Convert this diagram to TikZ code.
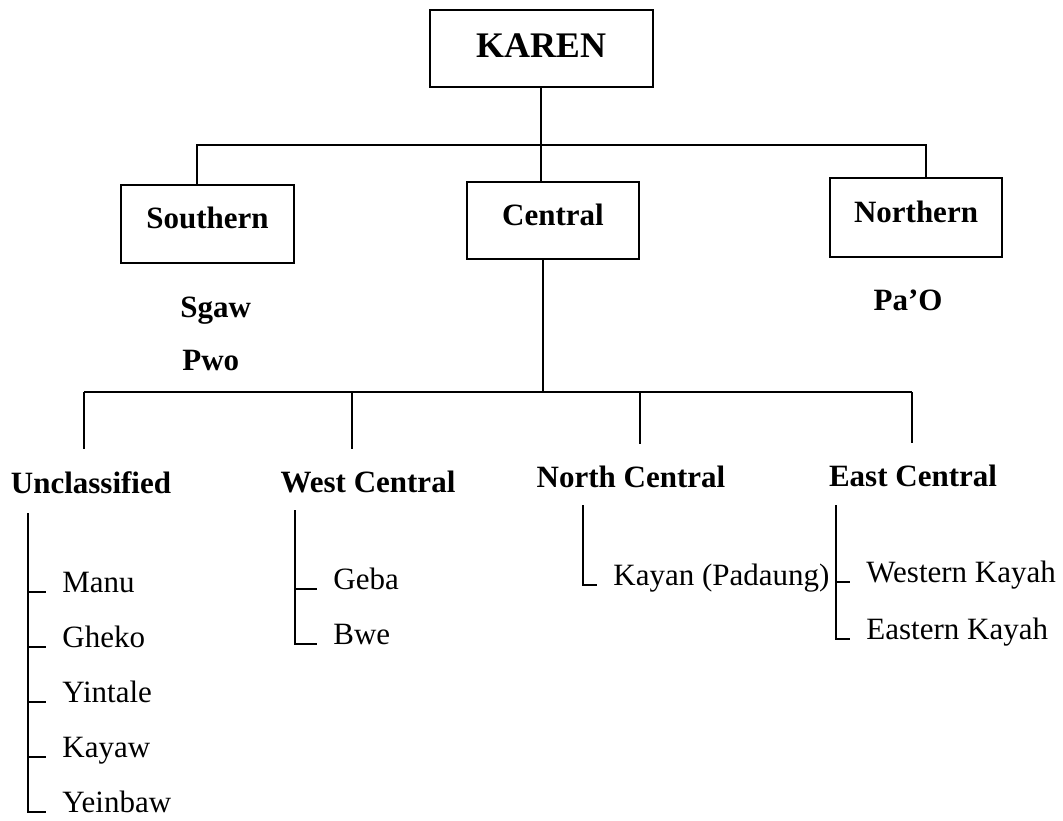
\documentclass[tikz,border=0pt]{standalone}
\usepackage{fontspec}
\setmainfont{Liberation Serif}
\usepackage{tikz}

\begin{document}
\begin{tikzpicture}[x=0.5pt, y=-0.5pt,
  box/.style={draw, line width=1pt, inner sep=0pt, text height=10pt, text depth=5.5pt,
    font=\fontsize{15.5}{18}\selectfont\bfseries},
  group/.style={anchor=base, inner sep=2pt, outer ysep=9pt, font=\fontsize{15.5}{18}\selectfont\bfseries},
  lang/.style={anchor=base west, inner sep=0pt, font=\fontsize{15.5}{18}\selectfont\bfseries},
  leaf/.style={anchor=base west, inner ysep=0pt, inner xsep=8pt, font=\fontsize{15.5}{18}\selectfont},
  link/.style={line width=0.8pt},
  spine/.style={line width=0.7pt}]
  \useasboundingbox (0,0) rectangle (1063,820);

  % top of the tree
  \node[box, minimum width=111.5pt, minimum height=38.5pt, text height=13pt, text depth=4.5pt,
    font=\fontsize{18}{21}\selectfont\bfseries] (karen) at (541,48.5) {KAREN};
  \node[box, minimum width=86.5pt, minimum height=39pt] (south)   at (207.5,224) {Southern};
  \node[box, minimum width=86pt,   minimum height=38.5pt] (central) at (553,220.5) {Central};
  \node[box, minimum width=86pt,   minimum height=39.5pt] (north)  at (916,217.5) {Northern};

  \coordinate (j1) at (541,145);
  \coordinate (sl) at (197,145);
  \coordinate (sr) at (926,145);
  \draw[link] (karen.south) -- (j1);
  \draw[link] (sl |- south.north) -- (sl) -- (sr) -- (sr |- north.north);
  \draw[link] (j1) -- (j1 |- central.north);

  \node[lang] (sgaw) at (180,317) {Sgaw};
  \node[lang] (pwo)  at (182,370) {Pwo};
  \node[lang, anchor=base] (pao) at (908,310) {Pa'O};

  % branches of Central
  \node[group] (unc) at (91,493)  {Unclassified};
  \node[group] (wc)  at (368,492) {West Central};
  \node[group] (nc)  at (631,487) {North Central};
  \node[group] (ec)  at (913,486) {East Central};

  \coordinate (j2) at (543,392);
  \coordinate (s1) at (84,392);
  \coordinate (s2) at (352,392);
  \coordinate (s3) at (640,392);
  \coordinate (s4) at (912,392);
  \draw[link] (j2 |- central.south) -- (j2);
  \draw[link] (s1) -- (s4);
  \foreach \s/\n in {s1/unc, s2/wc, s3/nc, s4/ec}
    \draw[link] (\s) -- (\s |- \n.north);

  % Unclassified
  \coordinate (ut) at (28,513);
  \node[leaf] (manu)    at (46,592) {Manu};
  \node[leaf] (gheko)   at (46,647) {Gheko};
  \node[leaf] (yintale) at (46,702) {Yintale};
  \node[leaf] (kayaw)   at (46,757) {Kayaw};
  \node[leaf] (yeinbaw) at (46,812) {Yeinbaw};
  \draw[spine] (ut) |- (yeinbaw.base west);
  \foreach \n in {manu, gheko, yintale, kayaw}
    \draw[spine] (ut |- \n.base west) -- (\n.base west);

  % West Central
  \coordinate (wt) at (295,510);
  \node[leaf] (geba) at (317,589) {Geba};
  \node[leaf] (bwe)  at (317,644) {Bwe};
  \draw[spine] (wt) |- (bwe.base west);
  \draw[spine] (wt |- geba.base west) -- (geba.base west);

  % North Central
  \coordinate (nt) at (583,505);
  \node[leaf] (kayan) at (597,585) {Kayan (Padaung)};
  \draw[spine] (nt) |- (kayan.base west);

  % East Central
  \coordinate (et) at (836,505);
  \node[leaf] (wkayah) at (850,582) {Western Kayah};
  \node[leaf] (ekayah) at (850,639) {Eastern Kayah};
  \draw[spine] (et) |- (ekayah.base west);
  \draw[spine] (et |- wkayah.base west) -- (wkayah.base west);
\end{tikzpicture}
\end{document}
